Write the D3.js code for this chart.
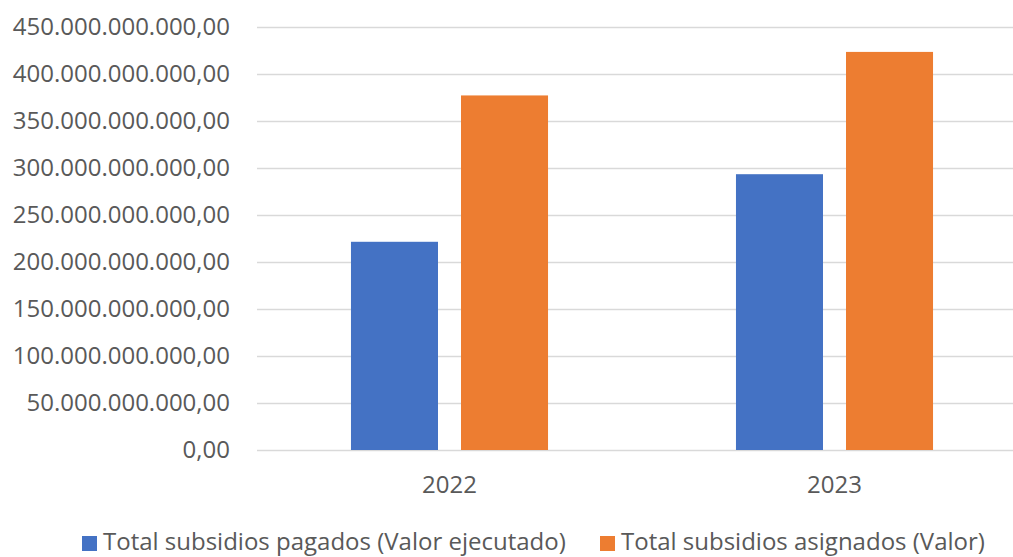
<!DOCTYPE html>
<html>
<head>
<meta charset="utf-8">
<script src="https://cdn.jsdelivr.net/npm/d3@7"></script>
<style>
  html, body { margin: 0; padding: 0; background: #fff; }
  svg { display: block; }
</style>
</head>
<body>
<div id="chart"></div>
<script>
// Chart data
const years = ['2022', '2023'];
const seriesNames = ['Total subsidios pagados (Valor ejecutado)', 'Total subsidios asignados (Valor)'];
const pagados = [221.5e9, 293.4e9];
const asignados = [377.2e9, 423.5e9];
const yTicks = [0, 50e9, 100e9, 150e9, 200e9, 250e9, 300e9, 350e9, 400e9, 450e9];
const seriesColors = ['#4472C4', '#ED7D31'];

const width = 1013, height = 557;
const margin = { top: 27, right: -14, bottom: 107, left: 257 };
const FONT = "'Open Sans', sans-serif";
const TEXT = '#595959';

const svg = d3.select('#chart').append('svg').attr('width', width).attr('height', height);

const x0 = d3.scaleBand().domain(years)
    .range([margin.left, width - margin.right]).paddingInner(0).paddingOuter(0);
const x1 = d3.scaleBand().domain(seriesNames)
    .range([0, x0.bandwidth()]).paddingInner(0.209).paddingOuter(0.854);
const y = d3.scaleLinear().domain([0, 450e9]).range([height - margin.bottom, margin.top]);

const fmt = d3.formatLocale({ decimal: ',', thousands: '.', grouping: [3], currency: ['', ''] }).format(',.2f');

// gridlines
svg.append('g').selectAll('line').data(yTicks).join('line')
    .attr('x1', margin.left).attr('x2', width)
    .attr('y1', d => Math.round(y(d)) + 0.5).attr('y2', d => Math.round(y(d)) + 0.5)
    .attr('stroke', '#D9D9D9').attr('stroke-width', 1.5);

// y tick labels
svg.append('g').selectAll('text').data(yTicks).join('text')
    .attr('x', 230).attr('y', d => y(d)).attr('dy', '0.35em')
    .attr('text-anchor', 'end').attr('fill', TEXT)
    .attr('font-family', FONT).attr('font-size', 24)
    .text(d => fmt(d));

// bars
const rows = years.map((yr, i) => ({ year: yr, values: [pagados[i], asignados[i]] }));
const groups = svg.append('g').selectAll('g').data(rows).join('g')
    .attr('transform', d => `translate(${x0(d.year)},0)`);
groups.selectAll('rect').data(d => d.values.map((v, k) => ({ key: seriesNames[k], v, k })))
    .join('rect')
    .attr('x', d => x1(d.key)).attr('width', x1.bandwidth())
    .attr('y', d => y(d.v)).attr('height', d => y(0) - y(d.v))
    .attr('fill', d => seriesColors[d.k]);

// x labels
svg.append('g').selectAll('text').data(years).join('text')
    .attr('x', d => x0(d) + x0.bandwidth() / 2).attr('y', 493)
    .attr('text-anchor', 'middle').attr('fill', TEXT)
    .attr('font-family', FONT).attr('font-size', 24)
    .text(d => d);

// legend
const legendX = [82, 600];
const lg = svg.append('g').selectAll('g').data(seriesNames).join('g')
    .attr('transform', (d, i) => `translate(${legendX[i]},536)`);
lg.append('rect').attr('width', 15).attr('height', 15).attr('fill', (d, i) => seriesColors[i]);
lg.append('text').attr('x', 21).attr('y', 14)
    .attr('fill', TEXT).attr('font-family', FONT).attr('font-size', 24)
    .text(d => d);
</script>
</body>
</html>
